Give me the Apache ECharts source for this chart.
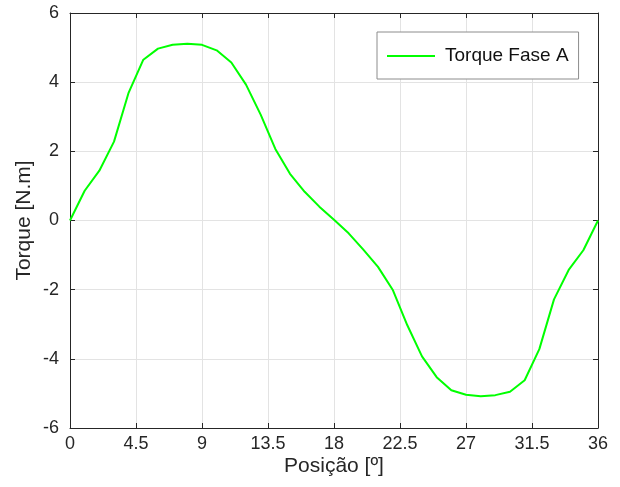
<!DOCTYPE html>
<html>
<head>
<meta charset="utf-8">
<script src="https://cdn.jsdelivr.net/npm/echarts@6/dist/echarts.min.js"></script>
<style>
  html, body { margin: 0; padding: 0; background: #fff; }
  #main { width: 620px; height: 487px; }
</style>
</head>
<body>
<div id="main"></div>
<script>
// posição em graus (passo de 1º)
const posicao = [0, 1, 2, 3, 4, 5, 6, 7, 8, 9, 10, 11, 12, 13, 14, 15, 16, 17, 18,
  19, 20, 21, 22, 23, 24, 25, 26, 27, 28, 29, 30, 31, 32, 33, 34, 35, 36]
// torque fase A [N.m]
const torqueA = [0, 0.86, 1.44, 2.28, 3.70, 4.65, 4.97, 5.08, 5.11, 5.08, 4.92, 4.57, 3.93,
  3.06, 2.07, 1.35, 0.83, 0.40, 0.02, -0.37, -0.84, -1.34, -2.0, -3.03, -3.93, -4.53,
  -4.91, -5.04, -5.08, -5.05, -4.95, -4.62, -3.72, -2.28, -1.43, -0.86, 0]
const xTicks = [0, 4.5, 9, 13.5, 18, 22.5, 27, 31.5, 36]
const yTicks = [-6, -4, -2, 0, 2, 4, 6]

const font = 'Liberation Sans'
const axisColor = '#262626'

function boxAxis(pos) {
  const isX = pos === 'top'
  return {
    type: 'value',
    position: pos,
    min: isX ? xTicks[0] : yTicks[0],
    max: isX ? xTicks[xTicks.length - 1] : yTicks[yTicks.length - 1],
    interval: isX ? 4.5 : 2,
    axisLine: { show: true, onZero: false, lineStyle: { color: axisColor, width: 1 } },
    axisTick: { show: true, inside: true, length: 5, lineStyle: { color: axisColor } },
    axisLabel: { show: false },
    splitLine: { show: false }
  }
}

const option = {
  animation: false,
  backgroundColor: '#fff',
  textStyle: { fontFamily: font },
  grid: { left: 70, right: 22, top: 13, bottom: 59 },
  legend: {
    data: ['Torque Fase A'],
    left: 377,
    top: 32,
    padding: [14, 10, 13, 10],
    icon: 'rect',
    itemWidth: 48,
    itemHeight: 2,
    itemGap: 10,
    borderColor: '#8c8c8c',
    borderWidth: 1,
    backgroundColor: '#fff',
    textStyle: { fontSize: 19, lineHeight: 20, color: '#111', fontFamily: font, padding: [0, 0, 0, 5] }
  },
  xAxis: [
    {
      type: 'value',
      min: xTicks[0],
      max: xTicks[xTicks.length - 1],
      interval: 4.5,
      name: 'Posição [º]',
      nameLocation: 'middle',
      nameGap: 28,
      nameMoveOverlap: false,
      nameTextStyle: { fontSize: 21, color: '#262626', fontFamily: font },
      axisLine: { show: true, onZero: false, lineStyle: { color: axisColor, width: 1 } },
      axisTick: { show: true, inside: true, length: 5, lineStyle: { color: axisColor } },
      axisLabel: { fontSize: 18, color: '#262626', margin: 7, fontFamily: font },
      splitLine: { show: true, lineStyle: { color: '#e3e3e3', width: 1 } }
    },
    boxAxis('top')
  ],
  yAxis: [
    {
      type: 'value',
      min: yTicks[0],
      max: yTicks[yTicks.length - 1],
      interval: 2,
      name: 'Torque [N.m]',
      nameLocation: 'middle',
      nameGap: 35,
      nameMoveOverlap: false,
      nameRotate: 90,
      nameTextStyle: { fontSize: 21, color: '#262626', fontFamily: font },
      axisLine: { show: true, onZero: false, lineStyle: { color: axisColor, width: 1 } },
      axisTick: { show: true, inside: true, length: 5, lineStyle: { color: axisColor } },
      axisLabel: { fontSize: 18, color: '#262626', margin: 11, fontFamily: font },
      splitLine: { show: true, lineStyle: { color: '#e3e3e3', width: 1 } }
    },
    boxAxis('right')
  ],
  series: [
    {
      name: 'Torque Fase A',
      type: 'line',
      xAxisIndex: 0,
      yAxisIndex: 0,
      symbol: 'none',
      lineStyle: { color: '#00ff00', width: 2 },
      itemStyle: { color: '#00ff00' },
      data: posicao.map((p, i) => [p, torqueA[i]])
    }
  ]
}

const chart = echarts.init(document.getElementById('main'))
chart.setOption(option)
</script>
</body>
</html>
